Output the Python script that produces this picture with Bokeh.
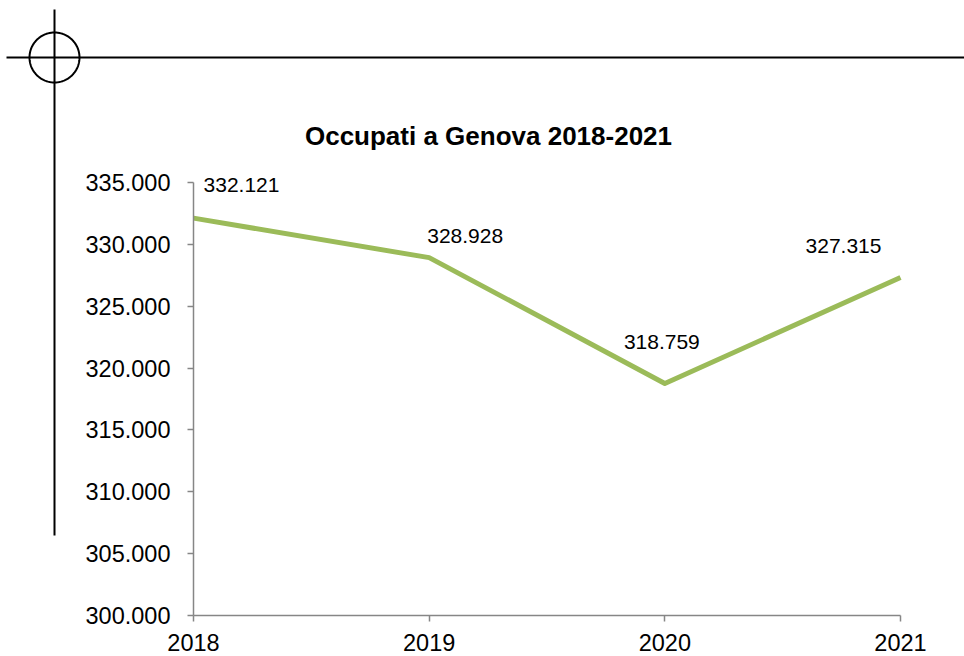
import numpy as np
from bokeh.plotting import figure
from bokeh.models import FixedTicker, Range1d, Label, PolyAnnotation
from bokeh.core.properties import value
from bokeh.embed import file_html
from bokeh.resources import INLINE

# ---- data ----
years = [2018, 2019, 2020, 2021]
occupati = [332121, 328928, 318759, 327315]
title_text = "Occupati a Genova 2018-2021"
y_ticks = [300000, 305000, 310000, 315000, 320000, 325000, 330000, 335000]
y_tick_labels = ["300.000", "305.000", "310.000", "315.000", "320.000", "325.000", "330.000", "335.000"]
x_tick_labels = ["2018", "2019", "2020", "2021"]

# ---- style / layout ----
W, H = 964, 656
FONT = "Liberation Sans"
AXIS_COLOR = "#868686"
LINE_COLOR = "#9BBB59"
label_dx = [48, 36, -3, -57]
label_dy = [-33, -22, -41, -32]

# pixel placement of the plot area inside the canvas
PX_LEFT, PX_RIGHT = 193, 900      # x of first / last year
PX_TOP, PX_BOTTOM = 182, 615      # y of top / bottom tick
x0, x1 = years[0], years[-1]
y0, y1 = y_ticks[0], y_ticks[-1]
xs_per_px = (x1 - x0) / (PX_RIGHT - PX_LEFT)
ys_per_px = (y1 - y0) / (PX_BOTTOM - PX_TOP)
x_range = Range1d(x0 - PX_LEFT * xs_per_px, x1 + (W - PX_RIGHT) * xs_per_px)
y_range = Range1d(y0 - (H - PX_BOTTOM) * ys_per_px, y1 + PX_TOP * ys_per_px)

p = figure(width=W, height=H, output_backend="svg", toolbar_location=None,
           x_range=x_range, y_range=y_range,
           min_border_left=0, min_border_right=0, min_border_top=0, min_border_bottom=0)
p.outline_line_color = None
p.grid.visible = False
p.background_fill_color = "white"
p.border_fill_color = "white"

p.xaxis.ticker = FixedTicker(ticks=years)
p.xaxis.major_label_overrides = {yr: lab for yr, lab in zip(years, x_tick_labels)}
p.xaxis.fixed_location = y0
p.xaxis.bounds = (x0, x1)
p.yaxis.ticker = FixedTicker(ticks=y_ticks)
p.yaxis.major_label_overrides = {t: lab for t, lab in zip(y_ticks, y_tick_labels)}
p.yaxis.fixed_location = x0
p.yaxis.bounds = (y0, y1)

for ax in (p.xaxis, p.yaxis):
    ax.axis_line_color = AXIS_COLOR
    ax.axis_line_width = 1.5
    ax.major_tick_line_color = AXIS_COLOR
    ax.major_tick_line_width = 1.5
    ax.major_tick_out = 6
    ax.major_tick_in = 0
    ax.minor_tick_line_color = None
    ax.major_label_text_font = FONT
    ax.major_label_text_font_size = "23.5px"
    ax.major_label_text_color = "black"
p.yaxis.major_label_standoff = 17
p.xaxis.major_label_standoff = 12

p.line(years, occupati, line_color=LINE_COLOR, line_width=5, line_join="round")

labels = [f"{v:,}".replace(",", ".") for v in occupati]
p.text(x=years, y=occupati, text=labels, x_offset=label_dx, y_offset=label_dy,
       text_font=value(FONT), text_font_size="21px", text_color="black",
       text_align="center", text_baseline="middle")

# title (screen units, origin bottom-left of canvas)
p.add_layout(Label(x=488, y=H - 135, x_units="screen", y_units="screen", text=title_text,
                   text_font=FONT, text_font_size="26px", text_font_style="bold",
                   text_align="center", text_baseline="middle", text_color="black"))

# registration mark decoration (screen units)
cx, cy, r = 54, H - 57, 25
ang = np.linspace(0, 2 * np.pi, 97)
deco = dict(xs_units="screen", ys_units="screen", line_color="black", line_alpha=1.0,
            line_width=2, fill_alpha=0)
p.add_layout(PolyAnnotation(xs=list(cx + r * np.cos(ang)), ys=list(cy + r * np.sin(ang)), **deco))
p.add_layout(PolyAnnotation(xs=[6, W], ys=[cy, cy], **deco))
p.add_layout(PolyAnnotation(xs=[cx, cx], ys=[H - 9, H - 535], **deco))

open("out.html", "w").write(file_html(p, INLINE))
